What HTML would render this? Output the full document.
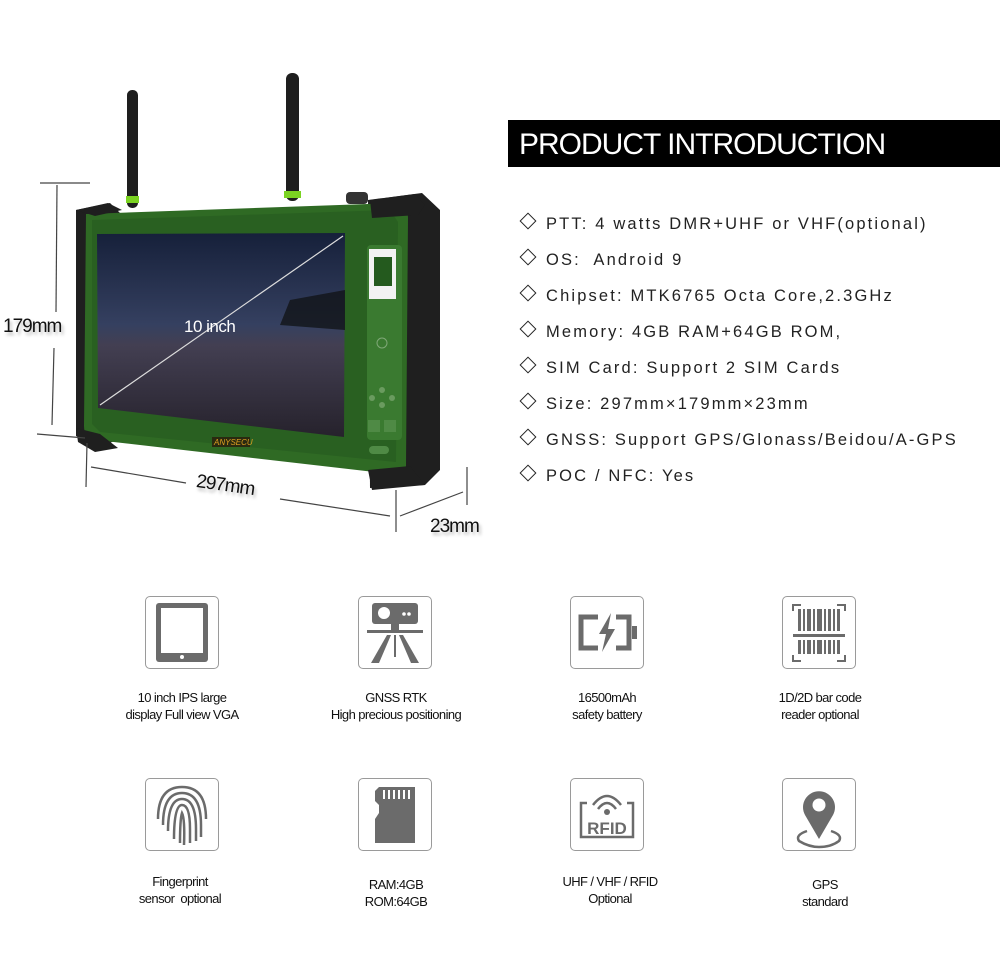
<!DOCTYPE html>
<html><head><meta charset="utf-8"><style>
html,body{margin:0;padding:0;background:#fff;}
body{width:1000px;height:977px;position:relative;overflow:hidden;font-family:"Liberation Sans",sans-serif;}
.a{position:absolute;white-space:nowrap;}
.bar{position:absolute;left:508px;top:120px;width:492px;height:47px;background:#000;}
.bar span{position:absolute;left:11px;top:8px;color:#fff;font-size:30px;letter-spacing:-1px;}
.spec{position:absolute;left:519px;font-size:16.5px;letter-spacing:2.15px;color:#222;}
.spec b{font-weight:normal;display:inline-block;width:10px;height:10px;border:1.6px solid #222;transform:rotate(45deg);margin:0 12px 2px 3px;}
.box{position:absolute;width:72px;height:71px;border:1.3px solid #9a9a9a;border-radius:5px;}
.box svg{position:absolute;left:0;top:0;}
.cap{position:absolute;width:200px;text-align:center;font-size:13px;letter-spacing:-0.6px;line-height:17px;color:#111;}
.dim{font-size:19px;letter-spacing:-1px;color:#111;text-shadow:2px 3px 3px #bbb;}
</style></head><body>

<svg class="a" style="left:0;top:0" width="500" height="560">
  <rect x="127" y="90" width="11" height="118" rx="5" fill="#1e1e1e"/>
  <rect x="126" y="196" width="13" height="7" fill="#7bd322"/>
  <rect x="286" y="73" width="13" height="128" rx="6" fill="#1e1e1e"/>
  <rect x="284" y="191" width="17" height="7" fill="#7bd322"/>
  <rect x="346" y="192" width="22" height="12" rx="4" fill="#333"/>
  <path d="M368 200 L422 193 L440 210 L440 470 L425 485 L370 488 Z" fill="#1f1f1f"/>
  <path d="M76 210 L110 203 L120 213 L118 440 L100 446 L76 436 Z" fill="#1f1f1f"/>
  <path d="M86 214 L395 203 Q408 205 408 218 L406 466 Q404 476 392 474 L96 440 Q84 438 84 426 Z" fill="#2f6a24"/>
  <path d="M92 220 L390 210 L398 222 L396 462 L100 432 L92 424 Z" fill="#296021"/>
  <path d="M370 200 L415 194 L425 205 L418 215 L372 218 Z" fill="#1f1f1f"/>
  <path d="M368 470 L410 466 L425 485 L372 490 Z" fill="#1f1f1f"/>
  <path d="M76 428 L100 434 L118 448 L95 452 L78 442 Z" fill="#1f1f1f"/>
  <path d="M76 210 L108 203 L122 210 L95 216 Z" fill="#1f1f1f"/>
  <defs><linearGradient id="sg" x1="0" y1="0" x2="0" y2="1">
    <stop offset="0" stop-color="#16203a"/><stop offset="0.45" stop-color="#354060"/>
    <stop offset="0.55" stop-color="#433f52"/><stop offset="1" stop-color="#26222c"/></linearGradient></defs>
  <path d="M97 234 L345 233 L344 437 L98 408 Z" fill="url(#sg)"/>
  <path d="M290 300 L345 290 L345 330 L280 325 Z" fill="#111418" opacity="0.8"/>
  <line x1="100" y1="405" x2="343" y2="236" stroke="#ddd" stroke-width="1.2"/>
  <text x="184" y="332" font-family="Liberation Sans" font-size="17" fill="#fff" letter-spacing="-0.5">10 inch</text>
  <rect x="367" y="245" width="35" height="195" rx="4" fill="#3a7a30"/>
  <rect x="369" y="249" width="27" height="50" fill="#f2f2f2"/>
  <rect x="374" y="257" width="18" height="29" fill="#245a1e"/>
  <circle cx="382" cy="343" r="5" fill="none" stroke="#7fa877" stroke-width="1"/>
  <circle cx="382" cy="390" r="3" fill="#6a9b5f"/><circle cx="372" cy="398" r="3" fill="#6a9b5f"/>
  <circle cx="392" cy="398" r="3" fill="#6a9b5f"/><circle cx="382" cy="405" r="3" fill="#6a9b5f"/>
  <rect x="368" y="420" width="12" height="12" fill="#4f8a45"/><rect x="384" y="420" width="12" height="12" fill="#4f8a45"/>
  <rect x="369" y="446" width="20" height="8" rx="4" fill="#4f8a45"/>
  <rect x="212" y="437" width="38" height="10" fill="#2a2a10"/>
  <text x="214" y="445" font-size="8" fill="#e0a020" font-style="italic">ANYSECU</text>
  <g stroke="#444" stroke-width="1.2" fill="none">
    <line x1="40" y1="183" x2="90" y2="183"/>
    <line x1="57" y1="185" x2="56" y2="312"/>
    <line x1="54" y1="348" x2="52" y2="425"/>
    <line x1="37" y1="434" x2="85" y2="438"/>
    <line x1="87" y1="443" x2="86" y2="487"/>
    <line x1="91" y1="467" x2="186" y2="483"/>
    <line x1="280" y1="499" x2="390" y2="516"/>
    <line x1="396" y1="490" x2="396" y2="532"/>
    <line x1="400" y1="516" x2="463" y2="492"/>
    <line x1="467" y1="467" x2="467" y2="505"/>
  </g>
</svg>
<div class="a dim" style="left:3px;top:316px;">179mm</div>
<div class="a dim" style="left:196px;top:475px;transform:rotate(8deg);">297mm</div>
<div class="a dim" style="left:430px;top:516px;">23mm</div>

<div class="bar"><span>PRODUCT INTRODUCTION</span></div>
<div class="spec" style="top:215px"><b></b>PTT: 4 watts DMR+UHF or VHF(optional)</div>
<div class="spec" style="top:251px"><b></b>OS:&nbsp; Android 9</div>
<div class="spec" style="top:287px"><b></b>Chipset: MTK6765 Octa Core,2.3GHz</div>
<div class="spec" style="top:323px"><b></b>Memory: 4GB RAM+64GB ROM,</div>
<div class="spec" style="top:359px"><b></b>SIM Card: Support 2 SIM Cards</div>
<div class="spec" style="top:395px"><b></b>Size: 297mm×179mm×23mm</div>
<div class="spec" style="top:431px"><b></b>GNSS: Support GPS/Glonass/Beidou/A-GPS</div>
<div class="spec" style="top:467px"><b></b>POC / NFC: Yes</div>

<div class="box" style="left:145px;top:596px"><svg width="72" height="71">
  <rect x="10" y="6" width="52" height="59" rx="3" fill="#6b6b6b"/><rect x="15" y="11" width="42" height="45" fill="#fff"/>
  <circle cx="36" cy="60" r="2" fill="#fff"/></svg></div>
<div class="box" style="left:358px;top:596px"><svg width="72" height="71">
  <rect x="13" y="6" width="46" height="21" rx="3" fill="#6b6b6b"/><circle cx="25" cy="16" r="6" fill="#fff"/>
  <circle cx="45" cy="17" r="1.8" fill="#fff"/><circle cx="50" cy="17" r="1.8" fill="#fff"/>
  <rect x="32" y="27" width="8" height="6" fill="#6b6b6b"/>
  <rect x="8" y="33" width="56" height="3" fill="#6b6b6b"/>
  <path d="M28 38 L32 38 L20 66 L12 66 Z M44 38 L40 38 L52 66 L60 66 Z M35 38 L37 38 L37 60 L35 60 Z" fill="#6b6b6b"/></svg></div>
<div class="box" style="left:570px;top:596px"><svg width="72" height="71">
  <path d="M27 20 L10 20 L10 51 L27 51" fill="none" stroke="#6b6b6b" stroke-width="5"/>
  <path d="M45 20 L58 20 L58 51 L45 51" fill="none" stroke="#6b6b6b" stroke-width="5"/>
  <rect x="61" y="29" width="5" height="13" fill="#6b6b6b"/>
  <path d="M40 16 L28 37 L35 37 L31 55 L44 32 L37 32 Z" fill="#6b6b6b"/></svg></div>
<div class="box" style="left:782px;top:596px"><svg width="72" height="71">
  <path d="M10 14 V8 H18 M54 8 H62 V14 M10 58 V64 H18 M54 64 H62 V58" fill="none" stroke="#6b6b6b" stroke-width="2"/>
  <g fill="#6b6b6b"><rect x="15" y="12" width="3" height="22"/><rect x="20" y="12" width="2" height="22"/><rect x="24" y="12" width="4" height="22"/><rect x="30" y="12" width="2" height="22"/><rect x="34" y="12" width="5" height="22"/><rect x="41" y="12" width="2" height="22"/><rect x="45" y="12" width="3" height="22"/><rect x="50" y="12" width="2" height="22"/><rect x="54" y="12" width="3" height="22"/>
  <rect x="10" y="37" width="52" height="3"/>
  <rect x="15" y="43" width="3" height="14"/><rect x="20" y="43" width="2" height="14"/><rect x="24" y="43" width="4" height="14"/><rect x="30" y="43" width="2" height="14"/><rect x="34" y="43" width="5" height="14"/><rect x="41" y="43" width="2" height="14"/><rect x="45" y="43" width="3" height="14"/><rect x="50" y="43" width="2" height="14"/><rect x="54" y="43" width="3" height="14"/></g></svg></div>

<div class="cap" style="left:82px;top:689px">10 inch IPS large<br>display Full view VGA</div>
<div class="cap" style="left:296px;top:689px">GNSS RTK<br>High precious positioning</div>
<div class="cap" style="left:507px;top:689px">16500mAh<br>safety battery</div>
<div class="cap" style="left:720px;top:689px">1D/2D bar code<br>reader optional</div>

<div class="box" style="left:145px;top:778px"><svg width="72" height="71"><g fill="none" stroke="#6b6b6b" stroke-width="2.5">
  <path d="M12 40 Q12 8 36 8 Q60 8 60 40"/><path d="M17 46 Q17 14 36 14 Q55 14 55 46 V58"/>
  <path d="M22 52 Q22 20 36 20 Q50 20 50 50 V62"/><path d="M28 60 Q28 26 36 26 Q44 26 44 50 V64"/>
  <path d="M34 64 Q34 40 36 34 Q39 40 38 66"/></g></svg></div>
<div class="box" style="left:358px;top:778px"><svg width="72" height="71">
  <path d="M20 8 H56 V64 H16 V40 L20 34 V26 L16 22 V12 Z" fill="#6b6b6b"/>
  <g fill="#fff"><rect x="24" y="11" width="2" height="9"/><rect x="29" y="11" width="2" height="9"/><rect x="34" y="11" width="2" height="9"/><rect x="39" y="11" width="2" height="9"/><rect x="44" y="11" width="2" height="9"/><rect x="49" y="11" width="2" height="9"/></g></svg></div>
<div class="box" style="left:570px;top:778px"><svg width="72" height="71">
  <path d="M16 24 H10 V58 H62 V24 H56" fill="none" stroke="#6b6b6b" stroke-width="2.5"/>
  <g fill="none" stroke="#6b6b6b" stroke-width="2.5"><path d="M22 26 Q36 8 50 26"/><path d="M27 30 Q36 18 45 30"/></g>
  <circle cx="36" cy="33" r="3" fill="#6b6b6b"/>
  <text x="36" y="55" text-anchor="middle" font-family="Liberation Sans" font-weight="bold" font-size="17" fill="#6b6b6b">RFID</text></svg></div>
<div class="box" style="left:782px;top:778px"><svg width="72" height="71">
  <path d="M36 60 L22 36 A16 16 0 1 1 50 36 Z" fill="#6b6b6b"/><circle cx="36" cy="26" r="6.5" fill="#fff"/>
  <path d="M24 52 Q12 56 16 62 Q26 68 36 68 Q48 68 56 62 Q60 56 48 52" fill="none" stroke="#6b6b6b" stroke-width="2.5"/></svg></div>

<div class="cap" style="left:80px;top:873px">Fingerprint<br>sensor&nbsp; optional</div>
<div class="cap" style="left:296px;top:876px">RAM:4GB<br>ROM:64GB</div>
<div class="cap" style="left:510px;top:873px">UHF / VHF / RFID<br>Optional</div>
<div class="cap" style="left:725px;top:876px">GPS<br>standard</div>
</body></html>
